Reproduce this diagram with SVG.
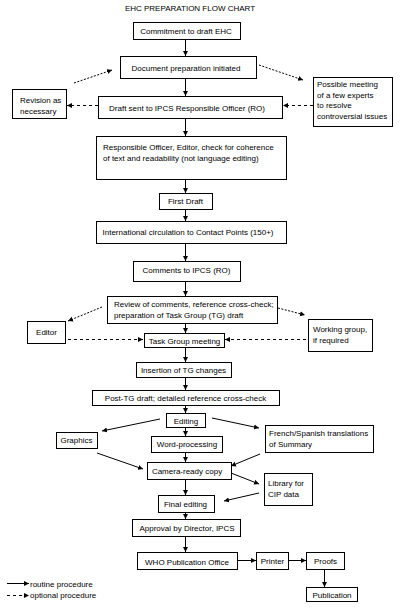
<svg xmlns="http://www.w3.org/2000/svg" width="404" height="616" viewBox="0 0 404 616">
<defs>
<marker id="ah" markerUnits="userSpaceOnUse" markerWidth="6" markerHeight="6" refX="5" refY="3" orient="auto">
<path d="M0,0.5 L5,3 L0,5.5 z" fill="#000"/>
</marker>
<style>
rect{fill:#fff;stroke:#000;stroke-width:1}
text{font-family:"Liberation Sans",Arial,sans-serif;font-size:8px;fill:#000}
.c{text-anchor:middle}
line,path.l{stroke:#000;stroke-width:1;fill:none}
.a{marker-end:url(#ah)}
.d{stroke-dasharray:3 3}
.o{stroke-dasharray:2 1.5}
</style>
</defs>
<rect width="404" height="616" style="fill:#fff;stroke:none"/>
<text class="c" x="190" y="11">EHC PREPARATION FLOW CHART</text>
<g id="connectors">
<line class="a" x1="185.5" y1="39" x2="185.5" y2="56"/>
<line class="a" x1="185.5" y1="79" x2="185.5" y2="96"/>
<line class="a" x1="185.5" y1="119" x2="185.5" y2="136"/>
<line class="a" x1="185.5" y1="179" x2="185.5" y2="193"/>
<line class="a" x1="185.5" y1="209" x2="185.5" y2="221"/>
<line class="a" x1="185.5" y1="243" x2="185.5" y2="261"/>
<line class="a" x1="185.5" y1="281" x2="185.5" y2="296"/>
<line class="a" x1="185.5" y1="323" x2="185.5" y2="333"/>
<line class="a" x1="185.5" y1="347" x2="185.5" y2="362"/>
<line class="a" x1="185.5" y1="377" x2="185.5" y2="390"/>
<line class="a" x1="185.5" y1="405" x2="185.5" y2="413"/>
<line class="a" x1="185.5" y1="427" x2="185.5" y2="436"/>
<line class="a" x1="185.5" y1="452" x2="185.5" y2="462"/>
<line class="a" x1="185.5" y1="479" x2="185.5" y2="495"/>
<line class="a" x1="185.5" y1="512" x2="185.5" y2="519"/>
<line class="a" x1="185.5" y1="536" x2="185.5" y2="552"/>
<line class="a" x1="237" y1="560.5" x2="256" y2="560.5"/>
<line class="a" x1="288" y1="560.5" x2="306" y2="560.5"/>
<line class="a" x1="324.5" y1="569" x2="324.5" y2="587"/>
<line class="a o" x1="74" y1="83" x2="112" y2="70"/>
<line class="a o" x1="259" y1="65" x2="303" y2="80"/>
<line class="a d" x1="98" y1="105.5" x2="67" y2="105.5"/>
<line class="a d" x1="313" y1="105.5" x2="283" y2="105.5"/>
<line class="a o" x1="102" y1="307" x2="68" y2="321"/>
<line class="a o" x1="278" y1="308" x2="305" y2="315"/>
<line class="a d" x1="68" y1="339.5" x2="143" y2="339.5"/>
<line class="a d" x1="306" y1="339.5" x2="225" y2="339.5"/>
<line class="a" x1="160" y1="419" x2="102" y2="431"/>
<line class="a" x1="212" y1="418" x2="259" y2="428"/>
<line class="a" x1="97" y1="453" x2="143" y2="469"/>
<line class="a" x1="260" y1="454" x2="231" y2="466"/>
<line class="a" x1="231" y1="473" x2="259" y2="484"/>
<line class="a" x1="259" y1="493" x2="224" y2="501"/>
</g>
<g id="n1"><rect x="133.5" y="22.5" width="107" height="17"/><text class="c" x="186" y="34">Commitment to draft EHC</text></g>
<g id="n2"><rect x="120.5" y="56.5" width="136" height="22"/><text class="c" x="186" y="71">Document preparation initiated</text></g>
<g id="n3"><rect x="98.5" y="96.5" width="184" height="22"/><text class="c" x="187" y="111">Draft sent to IPCS Responsible Officer (RO)</text></g>
<g id="revision"><rect x="12.5" y="89.5" width="54" height="29"/><text x="20" y="103">Revision as</text><text x="20" y="114">necessary</text></g>
<g id="meeting"><rect x="313.5" y="77.5" width="79" height="49"/><text x="317" y="87">Possible meeting</text><text x="317" y="97.5">of a few experts</text><text x="317" y="108">to resolve</text><text x="317" y="118.5">controversial issues</text></g>
<g id="n4"><rect x="96.5" y="136.5" width="190" height="43"/><text x="103" y="150">Responsible Officer, Editor, check for coherence</text><text x="103" y="161">of text and readability (not language editing)</text></g>
<g id="firstdraft"><rect x="159.5" y="193.5" width="53" height="16"/><text class="c" x="185.5" y="204">First Draft</text></g>
<g id="intl"><rect x="96.5" y="221.5" width="190" height="22"/><text class="c" x="188" y="235">International circulation to Contact Points (150+)</text></g>
<g id="comments"><rect x="133.5" y="261.5" width="107" height="20"/><text class="c" x="186.5" y="273">Comments to IPCS (RO)</text></g>
<g id="review"><rect x="107.5" y="296.5" width="170" height="27"/><text x="114" y="306.5">Review of comments, reference cross-check;</text><text x="114" y="317.5">preparation of Task Group (TG) draft</text></g>
<g id="taskgroup"><rect x="144.5" y="333.5" width="80" height="14"/><text class="c" x="184.5" y="343.5">Task Group meeting</text></g>
<g id="editor"><rect x="27.5" y="321.5" width="38" height="22"/><text class="c" x="46.5" y="335">Editor</text></g>
<g id="working"><rect x="308.5" y="319.5" width="64" height="32"/><text x="313" y="332">Working group,</text><text x="313" y="342.5">if required</text></g>
<g id="insertion"><rect x="136.5" y="362.5" width="95" height="15"/><text class="c" x="183.5" y="373">Insertion of TG changes</text></g>
<g id="posttg"><rect x="92.5" y="390.5" width="187" height="15"/><text class="c" x="185.5" y="401">Post-TG draft; detailed reference cross-check</text></g>
<g id="editing"><rect x="166.5" y="413.5" width="39" height="14"/><text class="c" x="186" y="423.5">Editing</text></g>
<g id="wp"><rect x="151.5" y="436.5" width="71" height="16"/><text class="c" x="187" y="447">Word-processing</text></g>
<g id="graphics"><rect x="56.5" y="432.5" width="41" height="16"/><text class="c" x="76.5" y="443">Graphics</text></g>
<g id="french"><rect x="265.5" y="425.5" width="108" height="27"/><text x="269" y="435.5">French/Spanish translations</text><text x="269" y="446.5">of Summary</text></g>
<g id="camera"><rect x="147.5" y="462.5" width="84" height="17"/><text class="c" x="187" y="473.5">Camera-ready copy</text></g>
<g id="library"><rect x="264.5" y="473.5" width="48" height="32"/><text x="268" y="486">Library for</text><text x="268" y="497">CIP data</text></g>
<g id="final"><rect x="158.5" y="495.5" width="56" height="17"/><text class="c" x="185.5" y="507">Final editing</text></g>
<g id="approval"><rect x="132.5" y="519.5" width="108" height="17"/><text class="c" x="187" y="530.5">Approval by Director, IPCS</text></g>
<g id="who"><rect x="137.5" y="552.5" width="100" height="17"/><text class="c" x="187" y="564.5">WHO Publication Office</text></g>
<g id="printer"><rect x="256.5" y="552.5" width="32" height="17"/><text class="c" x="272.5" y="564">Printer</text></g>
<g id="proofs"><rect x="306.5" y="552.5" width="38" height="17"/><text class="c" x="325.5" y="564">Proofs</text></g>
<g id="publication"><rect x="306.5" y="587.5" width="51" height="14"/><text class="c" x="332" y="597.5">Publication</text></g>
<g id="legend">
<line class="a" x1="7" y1="583.5" x2="29" y2="583.5"/>
<line class="a d" x1="7" y1="595.5" x2="29" y2="595.5"/>
<text x="30" y="586.5">routine procedure</text>
<text x="30" y="597.5">optional procedure</text>
</g>
</svg>
